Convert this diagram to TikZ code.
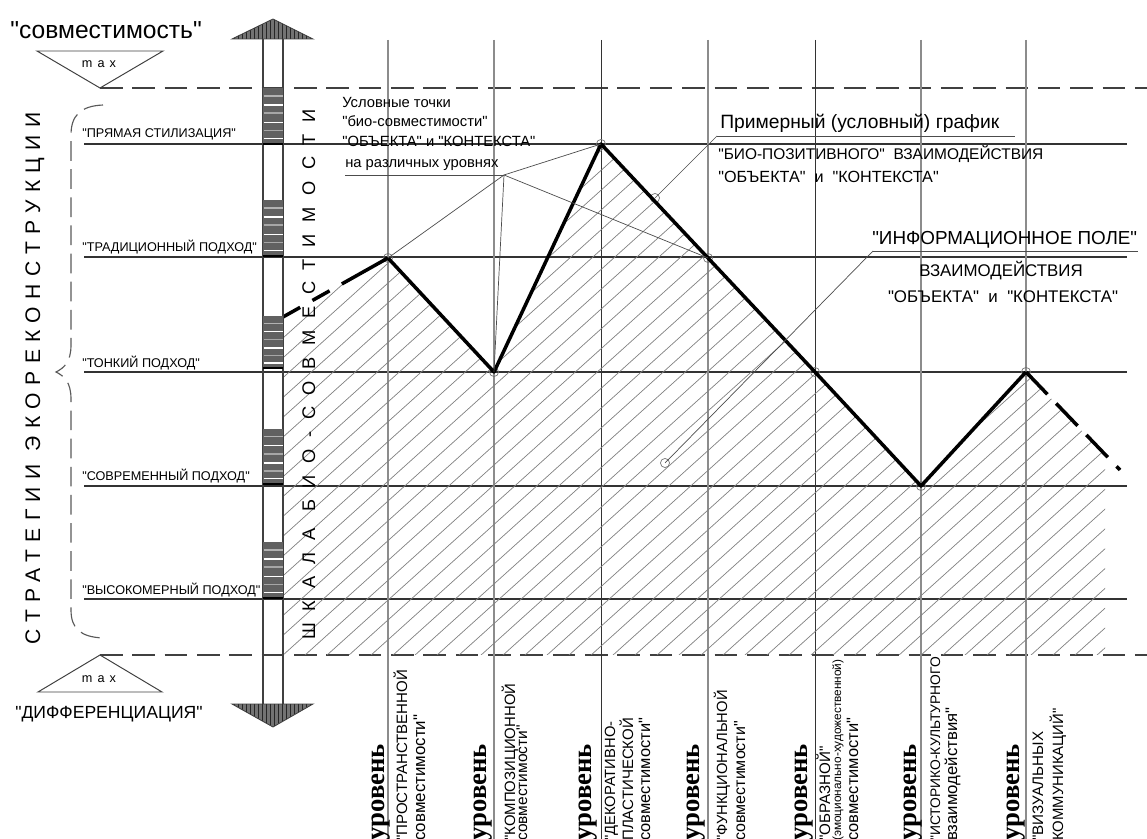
\documentclass[tikz,border=0pt]{standalone}
\usepackage{fontspec}
\setmainfont{Liberation Sans}[Ligatures=TeXOff]
\newfontfamily\levelfont{Liberation Serif}
\usetikzlibrary{positioning}

\newcommand{\fsz}[1]{\fontsize{#1}{#1}\selectfont}

\begin{document}
\begin{tikzpicture}[x=0.025cm, y=-0.025cm,
  gridline/.style={black!80, line width=0.9pt},
  levelthick/.style={black!45, line width=1.6pt},
  levelthin/.style={black!80, line width=0.7pt},
  limitline/.style={black!75, line width=1.5pt, dash pattern=on 16pt off 7pt},
  barline/.style={black!75, line width=0.9pt},
  graphline/.style={black, line width=2.5pt, line join=round},
  leader/.style={black!70, line width=0.5pt},
  hatchline/.style={black!50, line width=0.5pt},
  gpoint/.style={circle, draw=black!55, line width=0.5pt, inner sep=0pt, minimum size=6.5pt},
  txt/.style={inner sep=0pt, anchor=base west},
  vtxt/.style={inner sep=0pt, anchor=base west, rotate=90},
]
\useasboundingbox (0,0) rectangle (1147,839);

% strategy levels
\foreach \y in {144,257,372,486,599}
  \draw[gridline] (84,\y) -- (1127,\y);
\draw[limitline] (100,88) -- (1147,88);
\draw[limitline] (100,655) -- (1147,655);
\draw[black!75, line width=0.7pt] (37,51) -- (163,51) -- (100,88) -- cycle;
\draw[black!75, line width=0.7pt] (38,692) -- (162,692) -- (100,655) -- cycle;

% levels of compatibility
\foreach \x/\sty in {388/levelthick, 494/levelthick, 601/levelthin, 708/levelthick,
                     815/levelthin, 921/levelthick, 1026/levelthick}
  \draw[\sty] (\x,40) -- (\x,839);

% points of the graph
\coordinate (gstart) at (283,317);
\coordinate (gend) at (1120,470);
\node[gpoint] (p1) at (388,258) {};
\node[gpoint] (p2) at (494,372) {};
\node[gpoint] (p3) at (601,144) {};
\node[gpoint] (pmid) at (655,198) {};
\node[gpoint] (p4) at (708,258) {};
\node[gpoint] (p5) at (815,372) {};
\node[gpoint] (p6) at (921,486) {};
\node[gpoint] (p7) at (1026,372) {};
\node[gpoint] (fieldpt) at (665,463) {};

% information field
\begin{scope}
  \clip (gstart) -- (p1.center) -- (p2.center) -- (p3.center) -- (p4.center)
    -- (p5.center) -- (p6.center) -- (p7.center) -- (1105,455) -- (1105,655)
    -- (283,655) -- cycle;
  \foreach \c in {-290,-268,...,1110}
    \draw[hatchline] (\c,656) -- ++(575,-518);
\end{scope}

% graph
\draw[graphline, dash pattern=on 14pt off 10pt on 14pt off 10pt on 60pt] (gstart) -- (p1.center);
\draw[graphline] (p1.center) -- (p2.center) -- (p3.center) -- (p4.center)
  -- (p5.center) -- (p6.center) -- (p7.center);
\draw[graphline, dash pattern=on 22pt off 9pt] (p7.center) -- (gend);

% scale bar
\draw[barline] (263,39) -- (263,704);
\draw[barline] (283,39) -- (283,704);
\foreach \ya/\yb in {88/144, 200/256, 316/368, 429/484, 542/598} {
  \fill[black!62] (263,\ya) rectangle (283,\yb);
  \foreach \f/\c in {0.14/black!30, 0.3/white, 0.45/black!35, 0.62/white, 0.76/black!35, 0.9/white} {
    \pgfmathsetmacro{\yy}{\ya+\f*(\yb-\ya)}
    \draw[\c, line width=1.1pt] (263.5,\yy) -- (282.5,\yy);
  }
  \draw[black, line width=1pt] (263,\yb) -- (283,\yb);
}
\begin{scope}
  \clip (232,39) -- (313,39) -- (273,19) -- cycle;
  \fill[black!55] (232,19) rectangle (313,39);
  \foreach \x in {234,238,...,312}
    \draw[black!85, line width=0.6pt] (\x,19) -- (\x,39);
\end{scope}
\draw[black!75, line width=0.6pt] (232,39) -- (313,39) -- (273,19) -- cycle;
\begin{scope}
  \clip (232,704) -- (313,704) -- (273,727) -- cycle;
  \fill[black!55] (232,704) rectangle (313,727);
  \foreach \x in {234,238,...,312}
    \draw[black!85, line width=0.6pt] (\x,704) -- (\x,727);
\end{scope}
\draw[black!75, line width=0.6pt] (232,704) -- (313,704) -- (273,727) -- cycle;

% brace of strategies
\draw[black!65, line width=0.8pt, dash pattern=on 14pt off 6pt]
  (103,105) .. controls (80,106) and (71,116) .. (71,135) -- (71,345)
  .. controls (71,362) and (64,368) .. (56,372)
  .. controls (64,376) and (71,382) .. (71,399) -- (71,610)
  .. controls (71,628) and (80,637) .. (103,638);

% leaders
\coordinate (pointnote) at (504,175);
\draw[leader] (345,175) -- (pointnote);
\draw[leader] (pointnote) -- (p1.center);
\draw[leader] (pointnote) -- (p2.center);
\draw[leader] (pointnote) -- (p3.center);
\draw[leader] (pointnote) -- (p4.center);
\coordinate (graphnote) at (717,136);
\draw[leader] (graphnote) -- (1015,136);
\draw[leader] (graphnote) -- (pmid.center);
\coordinate (fieldnote) at (873,251);
\draw[leader] (fieldnote) -- (1138,251);
\draw[leader] (fieldnote) -- (fieldpt.center);

% texts
\node[txt] (compat) at (10,39) {\fsz{17.5}"совместимость"};
\node[txt] (diff) at (15,718) {\fsz{12.5}"ДИФФЕРЕНЦИАЦИЯ"};
\node[inner sep=0pt, anchor=base] (maxtop) at (99,68) {\fsz{9}\addfontfeatures{LetterSpace=40}max};
\node[inner sep=0pt, anchor=base] (maxbot) at (99,683) {\fsz{9}\addfontfeatures{LetterSpace=40}max};

\node[txt] (sstyl) at (82,138) {\fsz{9}"ПРЯМАЯ СТИЛИЗАЦИЯ"};
\node[txt] (strad) at (82,252) {\fsz{9}"ТРАДИЦИОННЫЙ ПОДХОД"};
\node[txt] (sfine) at (82,368) {\fsz{9}"ТОНКИЙ ПОДХОД"};
\node[txt] (smod) at (82,481) {\fsz{9}"СОВРЕМЕННЫЙ ПОДХОД"};
\node[txt] (sarr) at (82,595) {\fsz{9}"ВЫСОКОМЕРНЫЙ ПОДХОД"};

\node[vtxt] (strat) at (40,645) {\fsz{15}\addfontfeatures{LetterSpace=35}СТРАТЕГИИ ЭКОРЕКОНСТРУКЦИИ};
\node[vtxt] (scale) at (315,640) {\fsz{13}\addfontfeatures{LetterSpace=64}ШКАЛА БИО-СОВМЕСТИМОСТИ};

\node[txt] (pn1) at (342,108) {\fsz{10.5}Условные точки};
\node[txt] (pn2) at (342,127) {\fsz{10.5}"био-совместимости"};
\node[txt] (pn3) at (342,147) {\fsz{10.5}"ОБЪЕКТА" и "КОНТЕКСТА"};
\node[txt] (pn4) at (345,168) {\fsz{10.5}на различных уровнях};

\node[txt] (gn1) at (720,129) {\fsz{13.7}Примерный (условный) график};
\node[txt] (gn2) at (718,160) {\fsz{11}"БИО-ПОЗИТИВНОГО"\ \ ВЗАИМОДЕЙСТВИЯ};
\node[txt] (gn3) at (718,183) {\fsz{11.5}"ОБЪЕКТА"\ \ и\ \ "КОНТЕКСТА"};

\node[txt] (fn1) at (872,245) {\fsz{13.4}"ИНФОРМАЦИОННОЕ ПОЛЕ"};
\node[inner sep=0pt, anchor=base] (fn2) at (1001,277) {\fsz{12}ВЗАИМОДЕЙСТВИЯ};
\node[inner sep=0pt, anchor=base] (fn3) at (1003,303) {\fsz{12}"ОБЪЕКТА"\ \ и\ \ "КОНТЕКСТА"};

% level captions
\foreach \x in {384,486,591,699,807,916,1019}
  \node[vtxt] at (\x,841) {\fsz{19}\levelfont\bfseries уровень};
\node[vtxt] (l1a) at (407,841) {\fsz{10.7}"ПРОСТРАНСТВЕННОЙ};
\node[vtxt] (l1b) at (425,841) {\fsz{12}совместимости"};
\node[vtxt] (l2a) at (515,841) {\fsz{10.6}"КОМПОЗИЦИОННОЙ};
\node[vtxt] (l2b) at (527,841) {\fsz{11}совместимости"};
\node[vtxt] (l3a) at (615,841) {\fsz{10.5}"ДЕКОРАТИВНО-};
\node[vtxt] (l3b) at (633,841) {\fsz{10.7}ПЛАСТИЧЕСКОЙ};
\node[vtxt] (l3c) at (650,841) {\fsz{11.7}совместимости"};
\node[vtxt] (l4a) at (727,841) {\fsz{10.5}"ФУНКЦИОНАЛЬНОЙ};
\node[vtxt] (l4b) at (745,841) {\fsz{11.4}совместимости"};
\node[vtxt] (l5a) at (830,841) {\fsz{10.8}"ОБРАЗНОЙ"};
\node[vtxt] (l5b) at (841,841) {\fsz{8.4}(эмоционально-художественной)};
\node[vtxt] (l5c) at (858,841) {\fsz{11.7}совместимости"};
\node[vtxt] (l6a) at (940,841) {\fsz{9.85}"ИСТОРИКО-КУЛЬТУРНОГО};
\node[vtxt] (l6b) at (957,841) {\fsz{11.9}взаимодействия"};
\node[vtxt] (l7a) at (1043,841) {\fsz{10.8}"ВИЗУАЛЬНЫХ};
\node[vtxt] (l7b) at (1063,841) {\fsz{10.6}КОММУНИКАЦИЙ"};
\end{tikzpicture}
\end{document}
